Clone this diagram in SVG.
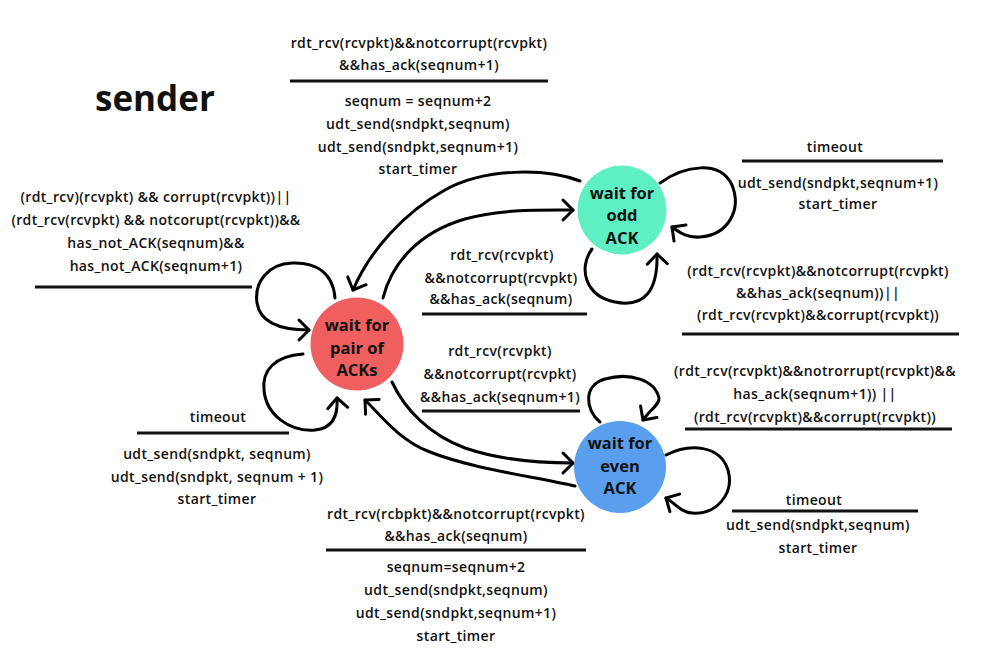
<svg xmlns="http://www.w3.org/2000/svg" width="1006" height="672" viewBox="0 0 1006 672">
<style>
  text { font-family: "Open Sans", "Liberation Sans", sans-serif; fill: #111; text-anchor: middle; dominant-baseline: central; }
  .lbl { font-size: 14px; font-weight: 600; letter-spacing: 0.35px; }
  .node { font-size: 16.5px; font-weight: 700; }
  .title { font-size: 35px; font-weight: 700; text-anchor: start; }
  .bar { stroke: #111; stroke-width: 3; fill: none; }
  .conn { stroke: #000; stroke-width: 3; fill: none; stroke-linecap: round; stroke-linejoin: round; marker-end: url(#ah); }
</style>
<defs>
  <marker id="ah" markerUnits="userSpaceOnUse" markerWidth="30" markerHeight="30" viewBox="-15 -15 30 30" refX="0" refY="0" orient="auto" overflow="visible">
    <path d="M-10,-10 L0,0 L-10,10" fill="none" stroke="#000" stroke-width="3" stroke-linecap="round" stroke-linejoin="round"/>
  </marker>
</defs>
<rect width="1006" height="672" fill="#fff"/>
<text class="title" x="95" y="97">sender</text>

<g id="connectors">
  <path class="conn" d="M335,298 C333,272 315,262 292,263 C268,264 254,282 257,303 C260,322 280,330 309,330"/>
  <path class="conn" d="M303,354 C275,356 262,370 264,390 C266,415 290,432 315,430 C335,428 338,412 337,398"/>
  <path class="conn" d="M580,181 C545,168 485,168 445,190 C405,212 370,250 353,290"/>
  <path class="conn" d="M383,298 C392,262 420,232 465,219 C500,209 540,210 573,210"/>
  <path class="conn" d="M592,249 C578,268 585,296 615,302 C645,308 658,290 657,254"/>
  <path class="conn" d="M660,183 C685,165 720,160 732,185 C742,210 728,235 700,237 C688,238 680,233 672,227"/>
  <path class="conn" d="M392,382 C405,410 430,435 465,448 C500,460 540,463 573,463"/>
  <path class="conn" d="M575,486 C530,476 470,468 430,452 C398,440 378,412 365,400"/>
  <path class="conn" d="M600,422 C585,410 583,385 605,379 C630,372 655,380 659,398 C660,404 650,410 643,420"/>
  <path class="conn" d="M666,455 C690,443 720,445 728,470 C735,495 715,515 692,513 C680,512 675,503 666,498"/>
</g>

<g id="node-pair">
  <circle cx="357" cy="344" r="46.5" fill="#F05F5F"/>
  <text class="node" x="357" y="324">wait for</text>
  <text class="node" x="357" y="347">pair of</text>
  <text class="node" x="357" y="369">ACKs</text>
</g>
<g id="node-odd">
  <circle cx="622" cy="210" r="44.5" fill="#5EF0C2"/>
  <text class="node" x="622" y="192">wait for</text>
  <text class="node" x="622" y="214">odd</text>
  <text class="node" x="622" y="237">ACK</text>
</g>
<g id="node-even">
  <circle cx="620" cy="467" r="46" fill="#5A9EEE"/>
  <text class="node" x="620" y="442">wait for</text>
  <text class="node" x="620" y="465">even</text>
  <text class="node" x="620" y="487">ACK</text>
</g>

<g id="label-pair-odd-top">
  <text class="lbl" x="419" y="42">rdt_rcv(rcvpkt)&amp;&amp;notcorrupt(rcvpkt)</text>
  <text class="lbl" x="419" y="64">&amp;&amp;has_ack(seqnum+1)</text>
  <line class="bar" x1="290" y1="81" x2="548" y2="81"/>
  <text class="lbl" x="418" y="100">seqnum = seqnum+2</text>
  <text class="lbl" x="418" y="123">udt_send(sndpkt,seqnum)</text>
  <text class="lbl" x="418" y="146">udt_send(sndpkt,seqnum+1)</text>
  <text class="lbl" x="418" y="168">start_timer</text>
</g>
<g id="label-pair-self1">
  <text class="lbl" x="156" y="196">(rdt_rcv)(rcvpkt) &amp;&amp; corrupt(rcvpkt))||</text>
  <text class="lbl" x="156" y="219">(rdt_rcv(rcvpkt) &amp;&amp; notcorupt(rcvpkt))&amp;&amp;</text>
  <text class="lbl" x="156" y="242">has_not_ACK(seqnum)&amp;&amp;</text>
  <text class="lbl" x="156" y="265">has_not_ACK(seqnum+1)</text>
  <line class="bar" x1="35" y1="287" x2="252" y2="287"/>
</g>
<g id="label-pair-timeout">
  <text class="lbl" x="218" y="416">timeout</text>
  <line class="bar" x1="137" y1="433" x2="289" y2="433"/>
  <text class="lbl" x="217" y="453">udt_send(sndpkt, seqnum)</text>
  <text class="lbl" x="217" y="476">udt_send(sndpkt, seqnum + 1)</text>
  <text class="lbl" x="217" y="498">start_timer</text>
</g>
<g id="label-odd-pair">
  <text class="lbl" x="502" y="254">rdt_rcv(rcvpkt)</text>
  <text class="lbl" x="501" y="277">&amp;&amp;notcorrupt(rcvpkt)</text>
  <text class="lbl" x="501" y="298">&amp;&amp;has_ack(seqnum)</text>
  <line class="bar" x1="422" y1="314" x2="587" y2="314"/>
</g>
<g id="label-odd-timeout">
  <text class="lbl" x="835" y="146">timeout</text>
  <line class="bar" x1="742" y1="161" x2="943" y2="161"/>
  <text class="lbl" x="838" y="182">udt_send(sndpkt,seqnum+1)</text>
  <text class="lbl" x="838" y="203">start_timer</text>
</g>
<g id="label-odd-self">
  <text class="lbl" x="818" y="270">(rdt_rcv(rcvpkt)&amp;&amp;notcorrupt(rcvpkt)</text>
  <text class="lbl" x="818" y="292">&amp;&amp;has_ack(seqnum))||</text>
  <text class="lbl" x="818" y="314">(rdt_rcv(rcvpkt)&amp;&amp;corrupt(rcvpkt))</text>
  <line class="bar" x1="682" y1="334" x2="959" y2="334"/>
</g>
<g id="label-pair-even">
  <text class="lbl" x="500" y="350">rdt_rcv(rcvpkt)</text>
  <text class="lbl" x="500" y="373">&amp;&amp;notcorrupt(rcvpkt)</text>
  <text class="lbl" x="500" y="396">&amp;&amp;has_ack(seqnum+1)</text>
  <line class="bar" x1="422" y1="411" x2="580" y2="411"/>
</g>
<g id="label-even-self">
  <text class="lbl" x="815" y="370">(rdt_rcv(rcvpkt)&amp;&amp;notrorrupt(rcvpkt)&amp;&amp;</text>
  <text class="lbl" x="815" y="393">has_ack(seqnum+1)) ||</text>
  <text class="lbl" x="815" y="416">(rdt_rcv(rcvpkt)&amp;&amp;corrupt(rcvpkt))</text>
  <line class="bar" x1="685" y1="429" x2="952" y2="429"/>
</g>
<g id="label-even-timeout">
  <text class="lbl" x="814" y="499">timeout</text>
  <line class="bar" x1="732" y1="511" x2="918" y2="511"/>
  <text class="lbl" x="818" y="524">udt_send(sndpkt,seqnum)</text>
  <text class="lbl" x="818" y="547">start_timer</text>
</g>
<g id="label-even-pair">
  <text class="lbl" x="456" y="513">rdt_rcv(rcbpkt)&amp;&amp;notcorrupt(rcvpkt)</text>
  <text class="lbl" x="456" y="535">&amp;&amp;has_ack(seqnum)</text>
  <line class="bar" x1="326" y1="550" x2="586" y2="550"/>
  <text class="lbl" x="456" y="566">seqnum=seqnum+2</text>
  <text class="lbl" x="456" y="589">udt_send(sndpkt,seqnum)</text>
  <text class="lbl" x="456" y="612">udt_send(sndpkt,seqnum+1)</text>
  <text class="lbl" x="456" y="635">start_timer</text>
</g>
</svg>
